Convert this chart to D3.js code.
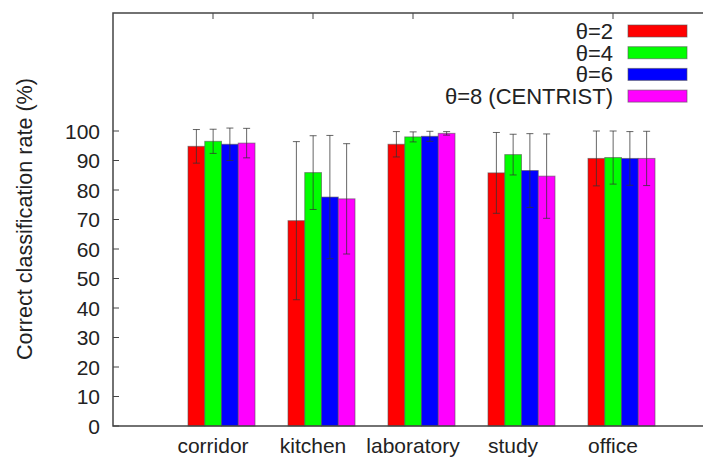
<!DOCTYPE html>
<html>
<head>
<meta charset="utf-8">
<script src="https://cdn.jsdelivr.net/npm/d3@7"></script>
<style>
  html, body { margin: 0; padding: 0; background: #fff; }
  svg { display: block; font-family: "Liberation Sans", Arial, sans-serif; }
  .tick-label { font-size: 21px; fill: #222; }
  .axis-title { font-size: 21.6px; fill: #222; }
  .legend-label { font-size: 22px; fill: #222; }
</style>
</head>
<body>
<div id="chart"></div>
<script>
// Correct classification rate per room category, 4 theta settings

const categories = ["corridor", "kitchen", "laboratory", "study", "office"];
const seriesNames = ["θ=2", "θ=4", "θ=6", "θ=8 (CENTRIST)"];
const seriesColors = ["#ff0000", "#00ff00", "#0000ff", "#ff00ff"];

// values[series][category]
const theta2 = [94.8, 69.6, 95.5, 85.8, 90.7];
const theta4 = [96.5, 85.9, 98.0, 92.0, 91.0];
const theta6 = [95.5, 77.6, 98.2, 86.6, 90.7];
const theta8 = [95.9, 77.0, 99.2, 84.7, 90.7];

// symmetric error (std dev)
const err2 = [5.7, 26.8, 4.3, 13.7, 9.3];
const err4 = [4.1, 12.5, 1.7, 6.9, 9.0];
const err6 = [5.5, 20.9, 1.7, 12.5, 9.1];
const err8 = [5.0, 18.7, 0.6, 14.3, 9.2];

const yTicks = [0, 10, 20, 30, 40, 50, 60, 70, 80, 90, 100];

const values = [theta2, theta4, theta6, theta8];
const errors = [err2, err4, err6, err8];

const width = 703, height = 457;
const plot = { left: 113, right: 713, top: 13, bottom: 426 };

const svg = d3.select("#chart").append("svg")
  .attr("width", width)
  .attr("height", height);

// x: category index, one unit per category, axis starts one unit before the first
const x = d3.scaleLinear().domain([-1, 5]).range([plot.left, plot.right]);
const y = d3.scaleLinear().domain([0, 140]).range([plot.bottom, plot.top]);

const unit = x(1) - x(0);
const barW = unit * 0.1675;
const groupOffset = -unit * 0.25;

// Bars
const barData = [];
values.forEach((vals, s) => {
  vals.forEach((v, c) => {
    barData.push({ s, c, v, e: errors[s][c] });
  });
});

const barX = d => x(d.c) + groupOffset + d.s * barW;

svg.append("g")
  .selectAll("rect")
  .data(barData)
  .join("rect")
    .attr("x", barX)
    .attr("y", d => y(d.v))
    .attr("width", barW)
    .attr("height", d => y(0) - y(d.v))
    .attr("fill", d => seriesColors[d.s])
    .attr("stroke", "#555")
    .attr("stroke-opacity", 0.6)
    .attr("stroke-width", 1);

// Error bars
const errG = svg.append("g")
  .attr("stroke", "#333")
  .attr("stroke-opacity", 0.75)
  .attr("stroke-width", 1);

const cx = d => barX(d) + barW / 2;
errG.selectAll("line.v")
  .data(barData)
  .join("line")
    .attr("class", "v")
    .attr("x1", cx).attr("x2", cx)
    .attr("y1", d => y(d.v + d.e)).attr("y2", d => y(d.v - d.e));
errG.selectAll("line.top")
  .data(barData)
  .join("line")
    .attr("class", "top")
    .attr("x1", d => cx(d) - 3.5).attr("x2", d => cx(d) + 3.5)
    .attr("y1", d => y(d.v + d.e)).attr("y2", d => y(d.v + d.e));
errG.selectAll("line.bot")
  .data(barData)
  .join("line")
    .attr("class", "bot")
    .attr("x1", d => cx(d) - 3.5).attr("x2", d => cx(d) + 3.5)
    .attr("y1", d => y(d.v - d.e)).attr("y2", d => y(d.v - d.e));

// Frame (left, top, bottom)
const frame = svg.append("g")
  .attr("stroke", "#444")
  .attr("stroke-width", 1.5)
  .attr("fill", "none");
frame.append("path")
  .attr("d", `M${plot.right},${plot.top}H${plot.left}V${plot.bottom}H${plot.right}`);

// Y ticks (inward) and labels
svg.append("g")
  .attr("stroke", "#444")
  .selectAll("line")
  .data(yTicks)
  .join("line")
    .attr("x1", plot.left).attr("x2", plot.left + 6)
    .attr("y1", d => y(d)).attr("y2", d => y(d));

svg.append("g")
  .selectAll("text")
  .data(yTicks)
  .join("text")
    .attr("class", "tick-label")
    .attr("x", plot.left - 13)
    .attr("y", d => y(d))
    .attr("dy", "0.36em")
    .attr("text-anchor", "end")
    .text(d => d);

// X ticks on top frame (inward)
svg.append("g")
  .attr("stroke", "#444")
  .selectAll("line")
  .data(categories)
  .join("line")
    .attr("x1", (d, i) => x(i)).attr("x2", (d, i) => x(i))
    .attr("y1", plot.top).attr("y2", plot.top + 6);

// Category labels
svg.append("g")
  .selectAll("text")
  .data(categories)
  .join("text")
    .attr("class", "tick-label")
    .attr("x", (d, i) => x(i))
    .attr("y", plot.bottom + 27)
    .attr("text-anchor", "middle")
    .text(d => d);

// Y axis title
svg.append("text")
  .attr("class", "axis-title")
  .attr("transform", `translate(32,219) rotate(-90)`)
  .attr("text-anchor", "middle")
  .text("Correct classification rate (%)");

// Legend
const legend = svg.append("g");
const legendRows = legend.selectAll("g")
  .data(seriesNames)
  .join("g")
    .attr("transform", (d, i) => `translate(0,${31 + i * 21.7})`);
legendRows.append("text")
  .attr("class", "legend-label")
  .attr("x", 613)
  .attr("y", 0)
  .attr("dy", "0.36em")
  .attr("text-anchor", "end")
  .text(d => d);
legendRows.append("rect")
  .attr("x", 628)
  .attr("y", -6)
  .attr("width", 59)
  .attr("height", 12)
  .attr("fill", (d, i) => seriesColors[i])
  .attr("stroke", "#555")
  .attr("stroke-opacity", 0.6);
</script>
</body>
</html>
